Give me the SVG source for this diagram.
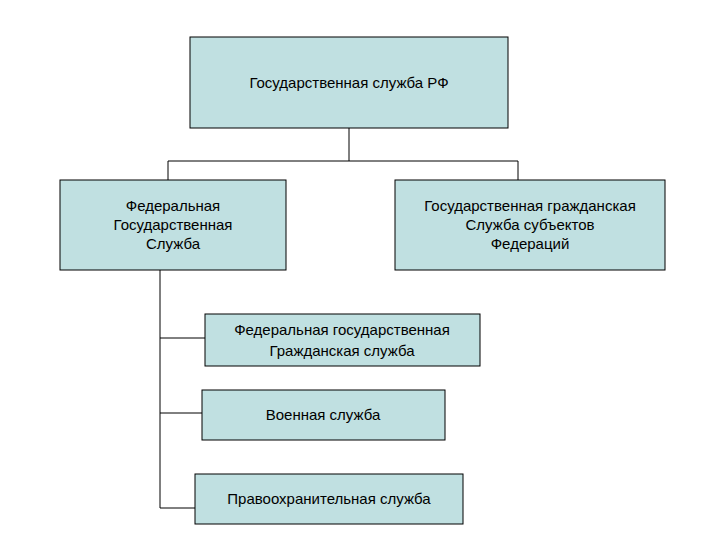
<svg xmlns="http://www.w3.org/2000/svg" width="720" height="540" viewBox="0 0 720 540">
<style>
.b{fill:#c0e0e1;stroke:#000;stroke-width:1}
text{font-family:"Liberation Sans",Arial,sans-serif;font-size:15px;text-anchor:middle;fill:#000}
.c{fill:none;stroke:#000;stroke-width:1}
</style>
<rect width="720" height="540" fill="#fff"/>
<g id="connectors">
<path class="c" d="M349 128V161M168 161H518M168 161V180M518 161V180M160 270V508M160 338H205M160 413H202M160 508H195"/>
</g>
<g id="n1"><rect class="b" x="190" y="37" width="318" height="91"/><text x="349" y="88">Государственная служба РФ</text></g>
<g id="n2"><rect class="b" x="60" y="180" width="226" height="90"/><text x="173" y="211">Федеральная</text><text x="173" y="230">Государственная</text><text x="173" y="249">Служба</text></g>
<g id="n3"><rect class="b" x="395" y="180" width="270" height="90"/><text x="530" y="211">Государственная  гражданская</text><text x="530" y="230">Служба субъектов</text><text x="530" y="249">Федераций</text></g>
<g id="n4"><rect class="b" x="205" y="314" width="275" height="52"/><text x="342" y="335">Федеральная  государственная</text><text x="342" y="356">Гражданская служба</text></g>
<g id="n5"><rect class="b" x="202" y="390" width="243" height="50"/><text x="323" y="420">Военная служба</text></g>
<g id="n6"><rect class="b" x="195" y="474" width="268" height="50"/><text x="329" y="504">Правоохранительная служба</text></g>
</svg>
